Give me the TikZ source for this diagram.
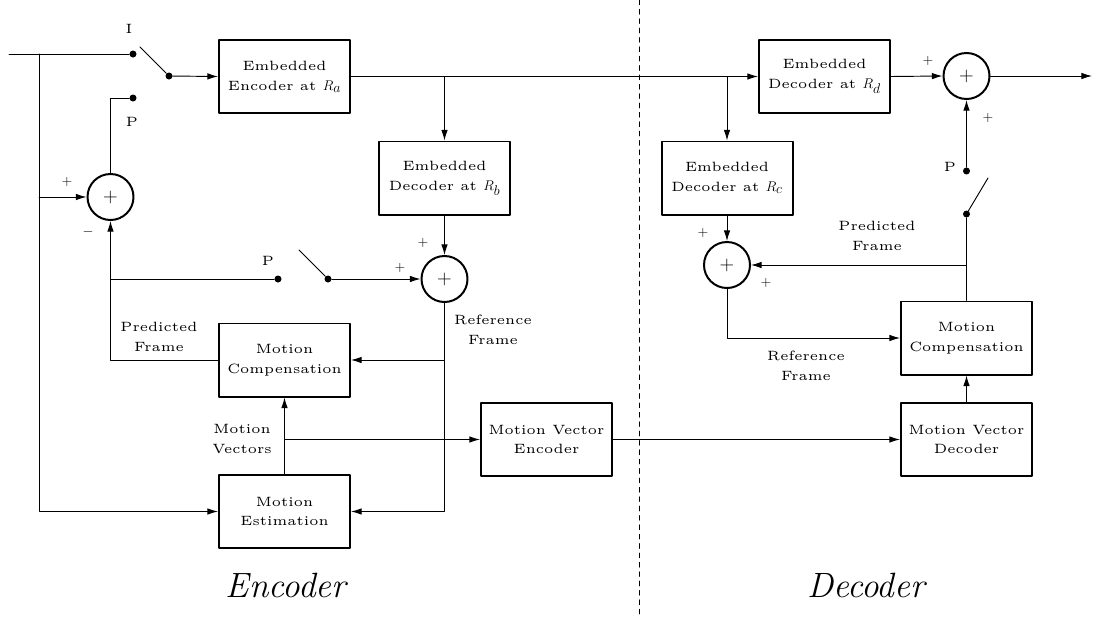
\documentclass[tikz,border=0pt]{standalone}
\usepackage{fontspec}
\usepackage{tikz}
\usetikzlibrary{arrows.meta}
\usetikzlibrary{positioning}
\newfontfamily\spacedfont{lmroman5-regular.otf}
\newcommand{\blkfont}{\spacedfont\fontsize{11.5}{17}\selectfont}
\newcommand{\bigfont}{\fontsize{30}{36}\selectfont\itshape}
\newcommand{\rate}[1]{$R_{\textstyle #1}$}

\begin{document}
\begin{tikzpicture}[line cap=round,line join=round,x=0.03cm,y=-0.03cm,
  blk/.style={draw,line width=1.7pt,minimum width=3.93cm,minimum height=2.19cm,align=center,font=\blkfont},
  sum/.style={draw,circle,line width=1.7pt,minimum size=1.38cm,inner sep=0pt,font=\fontsize{17}{17}\selectfont},
  dot/.style={circle,fill=black,inner sep=0pt,minimum size=0.21cm},
  lbl/.style={align=center,font=\blkfont,inner sep=0pt},
  sgn/.style={font=\fontsize{13}{13}\selectfont,inner sep=0pt},
  wire/.style={line width=0.8pt},
  arr/.style={line width=0.8pt,-{Latex[length=9pt, width=5.5pt]}}]
\useasboundingbox (0,0) rectangle (1093,616);

% encoder blocks
\node[blk] (enc) at (284.5,76.5) {Embedded\\Encoder at \rate{a}};
\node[blk] (decb) at (444.5,178) {Embedded\\Decoder at \rate{b}};
\node[blk] (mcE) at (284.5,360) {Motion\\Compensation};
\node[blk] (meE) at (284.5,511.5) {Motion\\Estimation};
\node[blk] (mve) at (546.5,439.5) {Motion Vector\\Encoder};
\node[sum] (addA) at (110.5,197) {\raisebox{-3pt}{$+$}};
\node[sum] (addB) at (444.5,279) {\raisebox{-3pt}{$+$}};

% decoder blocks
\node[blk] (decd) at (824.5,76.5) {Embedded\\Decoder at \rate{d}};
\node[blk] (decc) at (727,178) {Embedded\\Decoder at \rate{c}};
\node[blk] (mcD) at (966.5,338) {Motion\\Compensation};
\node[blk] (mvd) at (966.5,439.5) {Motion Vector\\Decoder};
\node[sum] (addC) at (727,265) {\raisebox{-3pt}{$+$}};
\node[sum] (addD) at (966.5,76) {\raisebox{-3pt}{$+$}};

% switches
\coordinate (in) at (9,54);
\coordinate (jn) at (39,54);
\coordinate (out) at (1092,76);
\node[dot] (dI) at (133,54) {};
\node[dot] (dIo) at (169,76) {};
\node[dot] (dP1) at (133,98) {};
\coordinate (bI) at (140,47);
\node[dot] (dP2) at (278,279) {};
\node[dot] (dS2) at (328,279) {};
\coordinate (bP) at (299,250);
\node[dot] (dP3) at (966.5,171) {};
\node[dot] (dS3) at (966.5,214) {};
\coordinate (bD) at (988,178);
\draw[wire] (bI) -- (dIo);
\draw[wire] (bP) -- (dS2);
\draw[wire] (bD) -- (dS3);

% encoder connections
\draw[wire] (in) -- (dI);
\draw[arr] (jn) |- (meE.west);
\draw[arr] (jn |- addA) -- (addA.west);
\draw[wire] (addA.north) |- (dP1);
\draw[arr] (dIo) -- (enc.west);
\draw[arr] (enc.east) -- (decd.west);
\draw[arr] (decb.north |- enc.east) -- (decb.north);
\draw[arr] (decb.south) -- (addB.north);
\draw[arr] (dS2) -- (addB.west);
\draw[wire] (dP2) -- (addA |- dP2);
\draw[arr] (mcE.west) -| (addA.south);
\draw[arr] (addB.south) |- (meE.east);
\draw[arr] (addB |- mcE.east) -- (mcE.east);
\draw[arr] (meE.north) -- (mcE.south);
\draw[arr] (meE.north |- mve.west) -- (mve.west);
\draw[arr] (mve.east) -- (mvd.west);

% decoder connections
\draw[arr] (decc.north |- enc.east) -- (decc.north);
\draw[arr] (decc.south) -- (addC.north);
\draw[arr] (decd.east) -- (addD.west);
\draw[arr] (addD.east) -- (out);
\draw[arr] (dP3) -- (addD.south);
\draw[wire] (mcD.north) -- (dS3);
\draw[arr] (mcD.north |- addC) -- (addC.east);
\draw[arr] (addC.south) |- (mcD.west);
\draw[arr] (mvd.north) -- (mcD.south);

\draw[line width=0.8pt,dash pattern=on 4pt off 4pt] (639,0) -- (639,616);

% labels
\node[lbl] (tI) at (129,29) {I};
\node[lbl] (tP1) at (132,122) {P};
\node[lbl] (tP2) at (268,261) {P};
\node[lbl] (tP3) at (950,167) {P};
\node[sgn] (sA1) at (67,182) {$+$};
\node[sgn] (sA2) at (88,232) {$-$};
\node[sgn] (sB1) at (423,243) {$+$};
\node[sgn] (sB2) at (400,268) {$+$};
\node[sgn] (sC1) at (703,233) {$+$};
\node[sgn] (sC2) at (766,283) {$+$};
\node[sgn] (sD1) at (928,61) {$+$};
\node[sgn] (sD2) at (988,118) {$+$};
\node[lbl] (tpfE) at (159,337) {Predicted\\Frame};
\node[lbl] (trfE) at (493,330) {Reference\\Frame};
\node[lbl] (tmv) at (242,439) {Motion\\Vectors};
\node[lbl] (tpfD) at (877,236) {Predicted\\Frame};
\node[lbl] (trfD) at (806,366) {Reference\\Frame};
\node[font=\bigfont] (tEnc) at (286,585) {Encoder};
\node[font=\bigfont] (tDec) at (866,585) {Decoder};
\end{tikzpicture}
\end{document}
